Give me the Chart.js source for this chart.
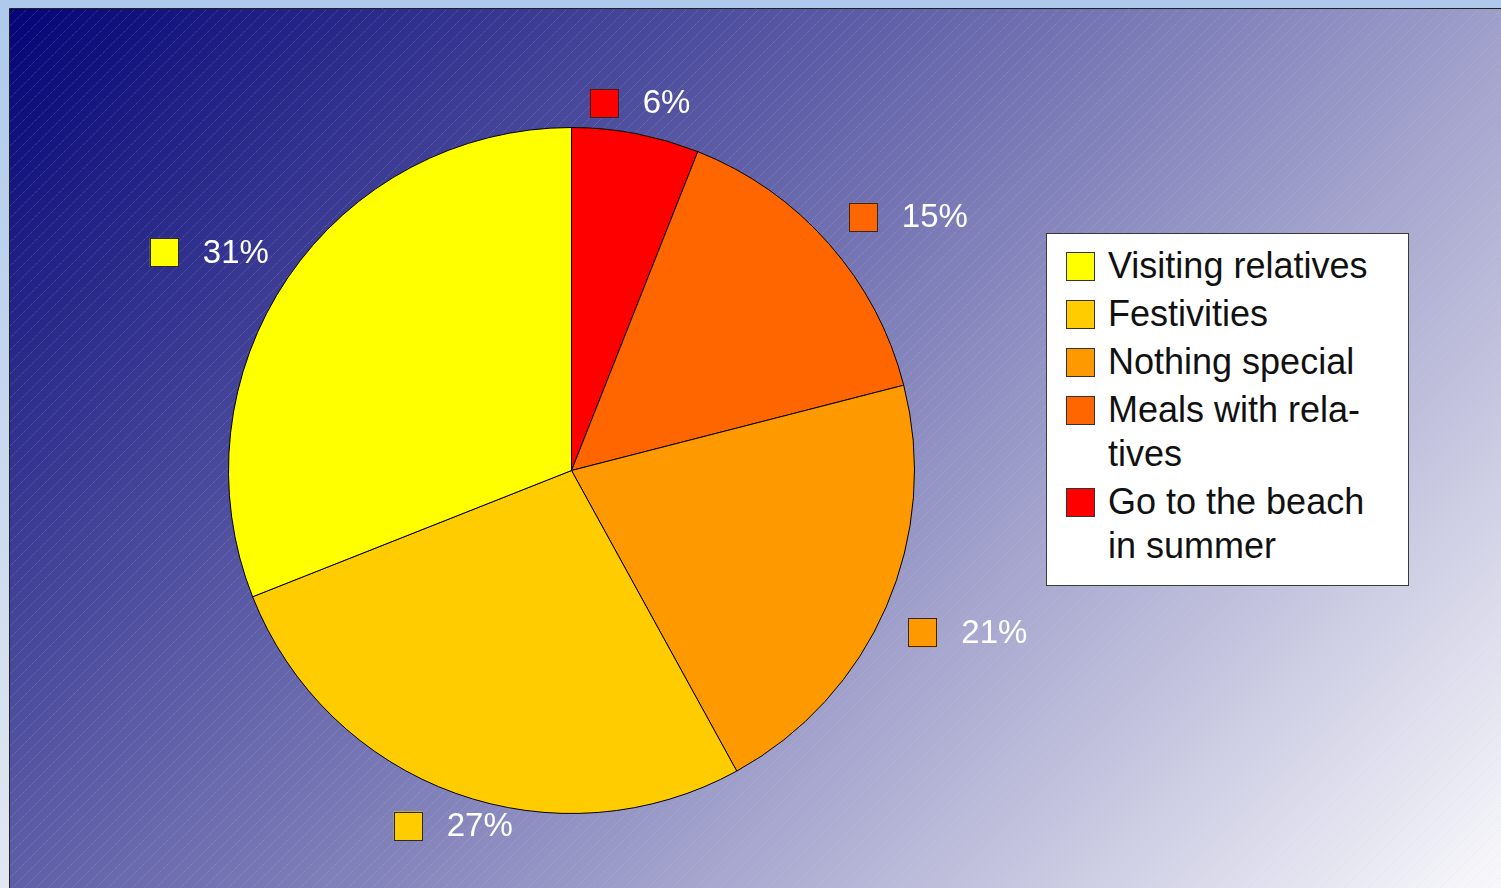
<!DOCTYPE html>
<html>
<head>
<meta charset="utf-8">
<script src="https://cdn.jsdelivr.net/npm/chart.js@4/dist/chart.umd.min.js"></script>
<style>
  html, body { margin: 0; padding: 0; width: 1501px; height: 888px; overflow: hidden; }
  #wrap { position: relative; width: 1501px; height: 888px; }
  #c { position: absolute; left: 0; top: 0; }
  #legend {
    position: absolute; left: 1046px; top: 233px; width: 361px; height: 351px;
    background: #fff; border: 1px solid #3a3a3a; box-sizing: content-box;
    font-family: "Liberation Sans", Arial, sans-serif; font-size: 36px; color: #111;
    padding: 0; 
  }
  #legend .item { position: absolute; left: 0; right: 0; }
  #legend .sw { position: absolute; left: 19px; border: 1px solid #333; box-sizing: border-box; width: 29px; height: 29px; }
  #legend .tx { position: absolute; left: 61px; width: 290px; line-height: 44px; }
</style>
</head>
<body>
<div id="wrap">
  <canvas id="c" width="1501" height="888"></canvas>
  <div id="legend"></div>
</div>
<script>
// ---- data (drawing order: clockwise from 12 o'clock) ----
const categories = ["Go to the beach in summer", "Meals with rela\u00ADtives", "Nothing special", "Festivities", "Visiting relatives"];
const values = [6, 15, 21, 27, 31];
const colors = ["#ff0000", "#ff6600", "#ff9900", "#ffcc00", "#ffff00"];

const FONT = '"Liberation Sans", Arial, sans-serif';

const backgroundPlugin = {
  id: 'bg',
  beforeDraw(chart) {
    const ctx = chart.ctx;
    const W = chart.width, H = chart.height;
    ctx.save();
    const og = ctx.createLinearGradient(0, 0, 0, H);
    og.addColorStop(0, '#aec9ec');
    og.addColorStop(1, '#e2e7f1');
    ctx.fillStyle = og;
    ctx.fillRect(0, 0, W, H);
    const x0 = 10, y0 = 9;
    const s = (W + H - x0 - y0) / 2;
    const g = ctx.createLinearGradient(x0, y0, x0 + s, y0 + s);
    g.addColorStop(0, 'rgb(4,4,118)');
    g.addColorStop(1, 'rgb(249,249,252)');
    ctx.fillStyle = g;
    ctx.fillRect(x0, y0, W - x0, H - y0);
    ctx.beginPath();
    ctx.rect(x0, y0, W - x0, H - y0);
    ctx.clip();
    ctx.strokeStyle = 'rgba(205,205,235,0.3)';
    ctx.lineWidth = 1;
    ctx.setLineDash([1, 1]);
    ctx.beginPath();
    for (let c = 0; c < W + H + 20; c += 12) {
      ctx.moveTo(c, 0);
      ctx.lineTo(c - H, H);
    }
    ctx.stroke();
    ctx.restore();
    ctx.save();
    ctx.strokeStyle = '#222';
    ctx.lineWidth = 1;
    ctx.beginPath();
    ctx.moveTo(9.5, H); ctx.lineTo(9.5, 8.5); ctx.lineTo(W, 8.5);
    ctx.stroke();
    ctx.restore();
  }
};

const labelPlugin = {
  id: 'pctLabels',
  afterDatasetsDraw(chart) {
    const ctx = chart.ctx;
    const meta = chart.getDatasetMeta(0);
    const data = chart.data.datasets[0].data;
    const total = data.reduce((a, b) => a + b, 0);
    ctx.save();
    ctx.font = '33px ' + FONT;
    ctx.textBaseline = 'middle';
    ctx.textAlign = 'left';
    meta.data.forEach((arc, i) => {
      const p = arc.getProps(['x', 'y', 'startAngle', 'endAngle', 'outerRadius'], true);
      const mid = (p.startAngle + p.endAngle) / 2;
      const dx = Math.cos(mid), dy = Math.sin(mid);
      const ax = p.x + (p.outerRadius + 12) * dx;
      const ay = p.y + (p.outerRadius + 12) * dy;
      const text = Math.round(data[i] / total * 100) + '%';
      const sq = 29, gap = 24;
      const tw = ctx.measureText(text).width;
      const w = sq + gap + tw;
      let left;
      if (Math.abs(dx) < 0.5) left = ax - w / 2 + 2;
      else if (dx > 0) left = ax + 11;
      else left = ax - 9 - w;
      let top = dy < 0 ? ay - 4 - sq : ay + 7;
      ctx.fillStyle = colors[i];
      ctx.fillRect(left, top, sq, sq);
      ctx.strokeStyle = '#2a2a2a';
      ctx.lineWidth = 1;
      ctx.strokeRect(Math.round(left) + 0.5, Math.round(top) + 0.5, sq - 1, sq - 1);
      ctx.fillStyle = '#ffffff';
      ctx.fillText(text, left + sq + gap, top + sq / 2 + 1);
    });
    ctx.restore();
  }
};

new Chart(document.getElementById('c'), {
  type: 'pie',
  data: {
    labels: categories,
    datasets: [{
      data: values,
      backgroundColor: colors,
      borderColor: '#000',
      borderWidth: 1
    }]
  },
  options: {
    responsive: false,
    animation: false,
    layout: { padding: { left: 227, right: 585, top: 127, bottom: 74 } },
    plugins: { legend: { display: false }, tooltip: { enabled: false } }
  },
  plugins: [backgroundPlugin, labelPlugin]
});

// ---- legend (reverse order, as in the reference) ----
const legend = document.getElementById('legend');
let y = 10;
for (let i = categories.length - 1; i >= 0; i--) {
  const item = document.createElement('div');
  item.className = 'item';
  item.style.top = y + 'px';
  const sw = document.createElement('div');
  sw.className = 'sw';
  sw.style.background = colors[i];
  sw.style.top = '8px';
  const tx = document.createElement('div');
  tx.className = 'tx';
  tx.textContent = categories[i];
  item.appendChild(sw);
  item.appendChild(tx);
  legend.appendChild(item);
  const h = tx.getBoundingClientRect().height;
  y += h + 4;
}
</script>
</body>
</html>
